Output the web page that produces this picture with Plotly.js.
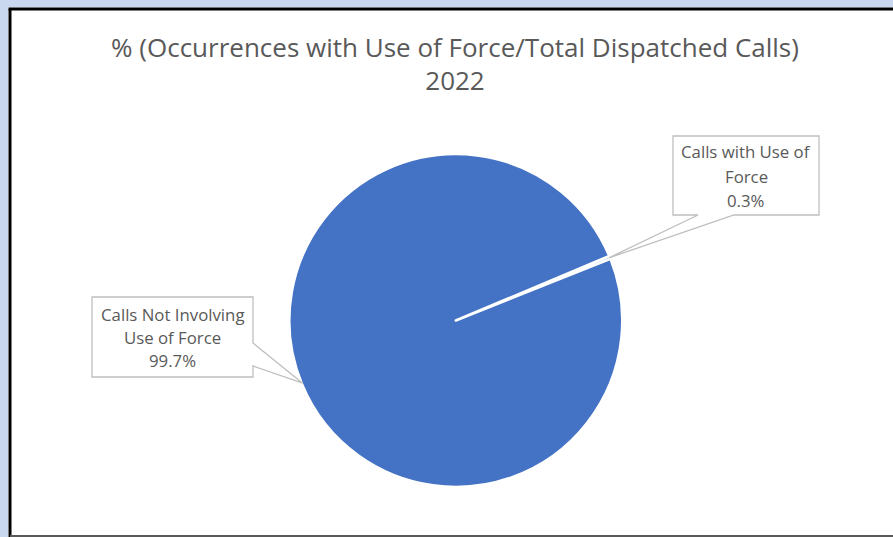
<!DOCTYPE html>
<html>
<head>
<meta charset="utf-8">
<script src="https://cdn.plot.ly/plotly-3.0.1.min.js"></script>
<style>html,body{margin:0;padding:0;background:#fff;}#chart{width:893px;height:537px;}</style>
</head>
<body>
<div id="chart"></div>
<script>
// ---- data ----
var categories = ["Calls with Use of Force", "Calls Not Involving Use of Force"];
var labelLines = [["Calls with Use of", "Force"], ["Calls Not Involving", "Use of Force"]];
var values = [0.3, 99.7];
var pctLabels = ["0.3%", "99.7%"];
var titleLines = ["% (Occurrences with Use of Force/Total Dispatched Calls)", "2022"];

// ---- geometry (pixels) ----
var W = 893, H = 537;
var cx = 455.8, cy = 320.5, R = 166.5;
var rotation = 67.2;
function px(x) { return x / W; }
function py(y) { return 1 - y / H; }

var textColor = "#595959";
var fontFam = "'Open Sans', sans-serif";

// callout boxes [left, top, right, bottom] and pointer base points
var boxes = [
  {l: 673, t: 136, r: 819, b: 215, base: [[698, 215], [734, 215]], lineY: [152, 176, 200]},
  {l: 92, t: 297, r: 253, b: 377, base: [[253, 343], [253, 366]], lineY: [314, 337, 360]}
];

// mid-angle tips computed from the data
var total = values.reduce(function (a, b) { return a + b; }, 0);
var tips = [];
var acc = 0;
for (var i = 0; i < values.length; i++) {
  var mid = (rotation + (acc + values[i] / 2) / total * 360) * Math.PI / 180;
  tips.push([cx + (R - 1) * Math.sin(mid), cy - (R - 1) * Math.cos(mid)]);
  acc += values[i];
}

var shapes = [];
var annotations = [];

// frame
shapes.push({type: "rect", xref: "paper", yref: "paper", x0: 0, x1: px(8), y0: 0, y1: 1, fillcolor: "#C9D8EF", line: {width: 0}, layer: "above"});
shapes.push({type: "rect", xref: "paper", yref: "paper", x0: 0, x1: 1, y0: py(7.5), y1: 1, fillcolor: "#C9D8EF", line: {width: 0}, layer: "above"});
shapes.push({type: "line", xref: "paper", yref: "paper", x0: px(10), x1: px(10), y0: 0, y1: py(9), line: {color: "#000", width: 3}});
shapes.push({type: "line", xref: "paper", yref: "paper", x0: px(8.5), x1: 1, y0: py(9), y1: py(9), line: {color: "#000", width: 3}});
shapes.push({type: "line", xref: "paper", yref: "paper", x0: px(10), x1: 1, y0: py(536), y1: py(536), line: {color: "#595959", width: 2}});

// callouts
for (var k = 0; k < boxes.length; k++) {
  var b = boxes[k], t = tips[k];
  var pts;
  if (k === 0) {
    pts = [[b.l, b.t], [b.r, b.t], [b.r, b.b], [b.base[1][0], b.b], t, [b.base[0][0], b.b], [b.l, b.b]];
  } else {
    pts = [[b.l, b.t], [b.r, b.t], [b.r, b.base[0][1]], t, [b.r, b.base[1][1]], [b.r, b.b], [b.l, b.b]];
  }
  var path = pts.map(function (p, j) { return (j === 0 ? "M" : "L") + px(p[0]).toFixed(5) + "," + py(p[1]).toFixed(5); }).join(" ") + " Z";
  shapes.push({type: "path", xref: "paper", yref: "paper", path: path, fillcolor: "#ffffff", line: {color: "#BFBFBF", width: 1.3}, layer: "above"});
  var lines = labelLines[k].concat([pctLabels[k]]);
  for (var m = 0; m < lines.length; m++) {
    annotations.push({
      xref: "paper", yref: "paper", x: px((b.l + b.r) / 2), y: py(b.lineY[m]),
      xanchor: "center", yanchor: "middle", showarrow: false,
      text: lines[m], font: {family: fontFam, size: 16.8, color: textColor}
    });
  }
}

var trace = {
  type: "pie",
  labels: categories,
  values: values,
  sort: false,
  direction: "clockwise",
  rotation: rotation,
  textinfo: "none",
  hoverinfo: "label+percent",
  marker: {colors: ["#4472C4", "#4472C4"], line: {color: "#ffffff", width: 2.6}},
  domain: {x: [px(cx - R), px(cx + R)], y: [py(cy + R), py(cy - R)]},
  showlegend: false
};

var layout = {
  width: W, height: H,
  margin: {l: 0, r: 0, t: 0, b: 0},
  paper_bgcolor: "#ffffff",
  title: {
    text: titleLines.join("<br>"),
    font: {family: fontFam, size: 26, color: textColor},
    x: px(455), xanchor: "center",
    y: py(56.5), yanchor: "middle"
  },
  showlegend: false,
  shapes: shapes,
  annotations: annotations
};

Plotly.newPlot("chart", [trace], layout, {displayModeBar: false, staticPlot: true});
</script>
</body>
</html>
